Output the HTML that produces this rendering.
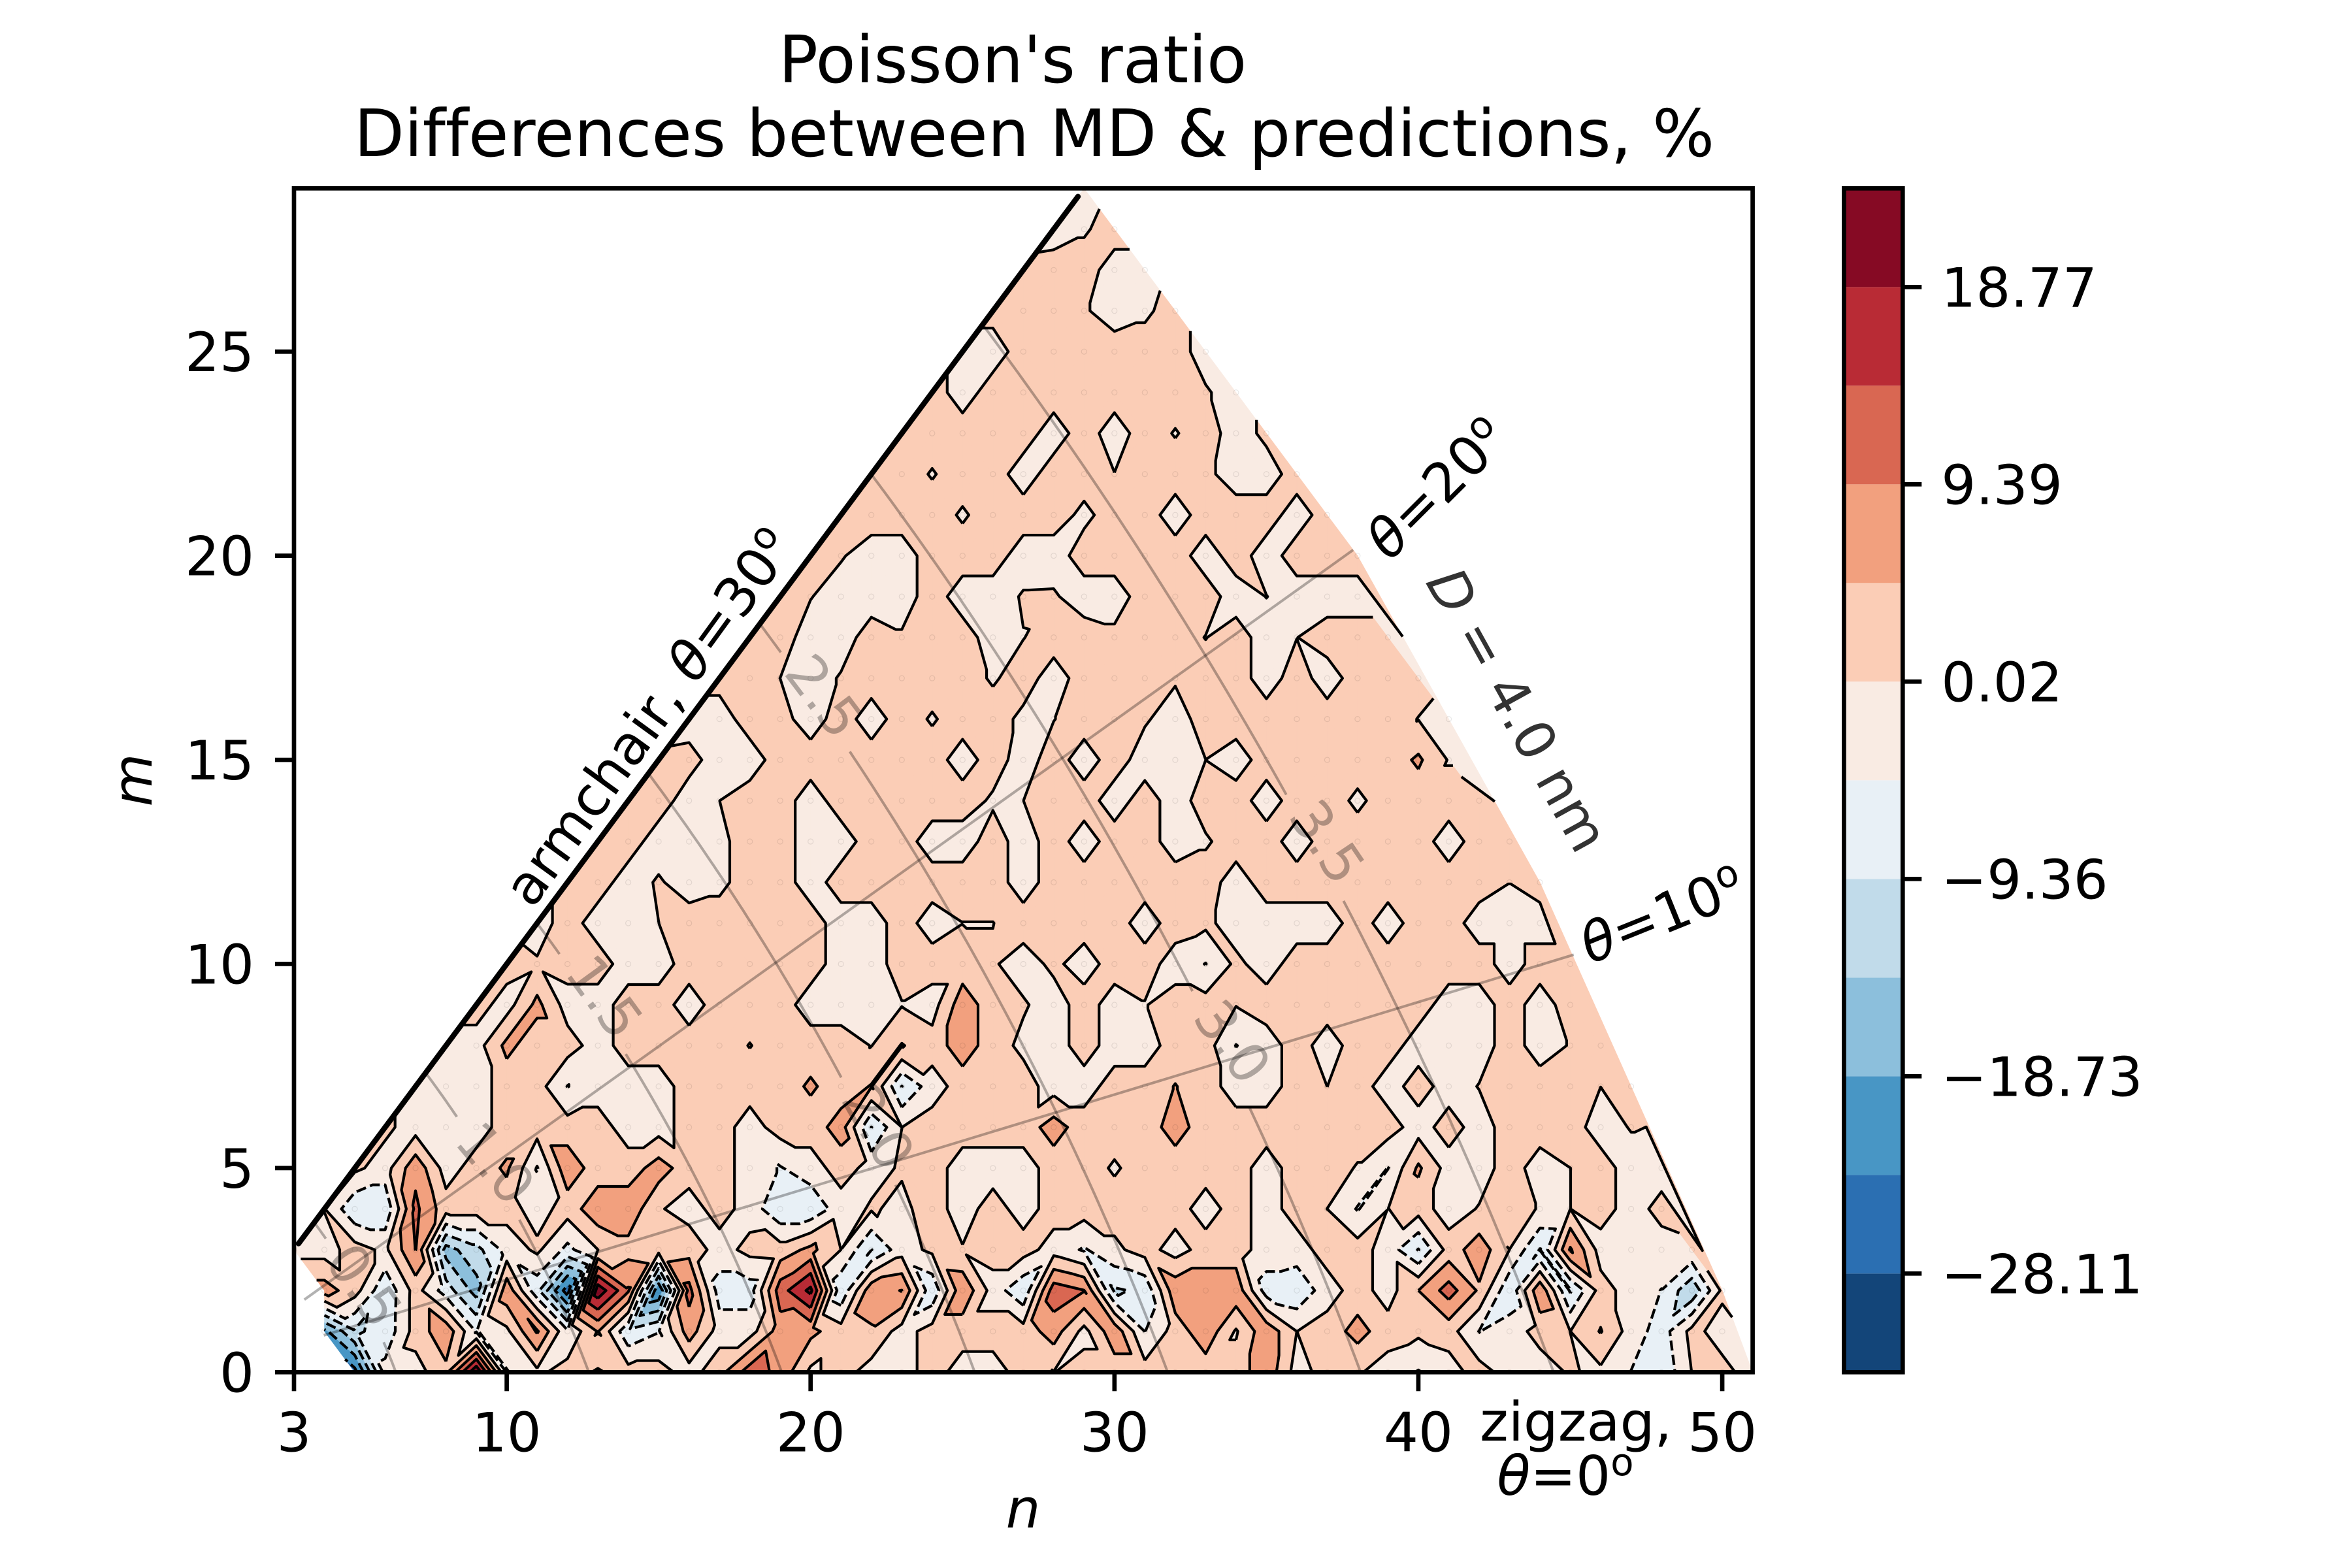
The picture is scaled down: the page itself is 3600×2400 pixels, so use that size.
<!DOCTYPE html>
<html lang="en">
<head>
<meta charset="utf-8">
<title>Poisson's ratio differences</title>
<style>
html,body{margin:0;padding:0;background:#fff;}
svg{display:block;}
text{font-family:"DejaVu Sans","Liberation Sans",sans-serif;fill:#000;font-variant-ligatures:none;}
</style>
</head>
<body>
<svg id="chart" xmlns="http://www.w3.org/2000/svg" width="3600" height="2400" viewBox="0 0 3600 2400">
  <rect x="0" y="0" width="3600" height="2400" fill="#fff"/>
  <defs><clipPath id="axclip"><rect x="450" y="288.3" width="2232.6" height="1812"/></clipPath></defs>
  <g id="plot" clip-path="url(#axclip)"></g>
  <g id="axes"></g>
  <g id="colorbar"></g>
  <text x="1550" y="126" font-size="100" text-anchor="middle">Poisson's ratio</text>
  <text x="1583" y="239" font-size="100" text-anchor="middle">Differences between MD &amp; predictions, %</text>
  <text x="1566" y="2338" font-size="83.33" font-style="italic" text-anchor="middle">n</text>
  <text transform="translate(232 1194) rotate(-90)" font-size="83.33" font-style="italic" text-anchor="middle">m</text>
  <text transform="translate(994 1098) rotate(-54)" font-size="83.33" text-anchor="middle" dy="28">armchair, <tspan font-style="italic">θ</tspan>=30<tspan dy="-30" font-size="58">o</tspan></text>
  <text transform="translate(2200 748) rotate(-45)" font-size="83.33" text-anchor="middle" dy="28"><tspan font-style="italic">θ</tspan>=20<tspan dy="-30" font-size="58">o</tspan></text>
  <text transform="translate(2545 1401) rotate(-22)" font-size="83.33" text-anchor="middle" dy="28"><tspan font-style="italic">θ</tspan>=10<tspan dy="-30" font-size="58">o</tspan></text>
  <text transform="translate(2322 1087) rotate(61)" font-size="83.33" text-anchor="middle" dy="28" style="fill:#333"><tspan font-style="italic">D</tspan> = 4.0 nm</text>
  <text x="2412" y="2205" font-size="83.33" text-anchor="middle">zigzag,</text>
  <text x="2396" y="2288" font-size="83.33" text-anchor="middle"><tspan font-style="italic">θ</tspan>=0<tspan dy="-30" font-size="58">o</tspan></text>
</svg>
<script>
// Chart values: percentage difference at each chirality (n, m). Each array is one m row, starting at nFirst(m).
const zM00=[-25,-3,-2,3.5,23, -5,-1,2,-0.5,2,2,-2,3,12,8, -1,2,-2,-2,2,-2,-2,2,-0.1,2, 2,2,2,2,2,8,-2,2,0.5,-2, -5,-2,2,-2,-2,0.5,-1,-4.8,-8.5,0.1, 1.5,-2];
const zM01=[-20,-10,-8,2,8,-5, -1,10,-4,5,-8.5,-5,7,-2,-2,7, 6,2,4,-2,2,2,2,2,7,-1.5, 8,-4.8,2,8,-0.5,8,0,2,6.5,2, 1,2,-4.8,-2,1.5,0,5,-2,-7,1.5, -2];
const zM02=[7,2,-8.5,2,-7,-16, 8,-8,-26,22,10,-23,11,-7,-7,12, 20,-8.5,8,9.5,-8.5,8.5,-2,-8.5,12,9.5, -10,-8.5,8,8,8,-7,-8.5,-2,2,-2, 4.7,11.5,4,-8.5,8.5,-10,2,-2,-4.8,-13, 1];
const zM03=[-2,-2,2,-1,9.5,-16,-11, -3,1,-6,0,3,2,3,-2,1.5,2, 6,0,-9.5,-2,1,0.3,2,2,-2,-5.2, -1,2,-2,2,2,-2,-2,2,2,-2, -9.6,2,7.5,0,-9.6,10,-2,-2,-2,-1];
const zM04=[0.2,-8.5,-8.5,10.5,2,2, 2,-2,2,8,8,0.5,-2,2,-2,-8.5, -8.5,-2,0.5,-1,2,-2,2,-2,2,2, 2,2,2,-2,2,-2,2,0,-5,-0.05, 2,-2,0.3,2,-0.3,0,2,-2,1.5];
const zM05=[1,-2,8,-2,2, 5.5,-5,8,2,2,7,2,2,-2,-5, -2,2,-1.5,0.5,2,-2,-2,-2,2,2, -0.5,2,2,2,2,-2,2,2,-0.3,-4.8, 5.5,-2,-2,2,-2,0,2,-2,-2];
const zM06=[1,-2,-2,-2, 2,2,2,2,-2,-2,2,2,-2,2, 2,7,-9.5,0,2,2,2,2,7,2, 2,2,7,2,2,2,2,2,2,2, -2,2,-2,2,2,2,-2,0.3];
const zM07=[-2,-2,-2, 2,2,-4.8,-2,-2,-2,2,2,2,2, 5.5,2,5,-9.5,-2,2,2,2,-2,-2, 2,2,4.9,2,-2,-2,2,0,2,-2, 2,-2,0.2,2,2,2,0.05,2];
const zM08=[-2,-2, 6,2,2,-2,2,2,2,2,4.9,2, 2,2,-0.1,5,2,7.5,2,-1,-2,2, -2,-2,2,2,-4.8,-2,2,-2,2,2, -2,-2,-2,2,-2,0.3,2];
const zM09=[2, -2,6,-2,-2,2,2,-2,2,2,2, -2,-2,-2,-0.2,-2,7.5,2,0.5,-2,2, -2,-0.2,2,2,0.2,2,2,2,2,2, 2,-2,-2,2,-2,2];
const zM10=[2,0.5,2,2,-2,-2,2,2,2,2, 2,-2,-2,2,2,2,0.5,-2,1,-2, 2,2,-2,-4.8,1,-2,2,2,2,2, 2,2,2,-2,2,2];
const zM11=[-2,2,-2,-2,0,2,2,2,2, 2,-2,-2,2,-2,-0.05,-0.05,2,2,2, 2,-2,2,1,-2,-2,-2,-2,2,-2, 2,2,-2,-2,-2];
const zM12=[2,2,-2,0.5,-2,-1,2,2, -2,2,2,2,2,2,2,-2,2,2, 2,2,2,2,-2,2,2,2,2,2, 2,2,2,0.1,2];
const zM13=[2,2,-2,-2,-1,2,2, -2,-2,2,2,-2,-2,2,-2,2,-2, 2,2,-2,-0.5,2,2,-2,2,2,2, 2,-2,2,2];
const zM14=[2,2,-2,0,2,2, -2,2,2,2,2,2,-0.6,0,2,2, -2,2,-2,2,2,-2,2,2,-0.8,2, 2,2,2];
const zM15=[1,1.5,-2,-2,2, 2,2,2,2,2,-2,2,-2,2,-2, 2,-2,-2,0,-2,2,2,2,2,2, 5.5,-0.3];
const zM16=[-2,-2,2,1.5, -2,2,-2,2,-0.4,2,2,-1,-0.1,2, 2,0.5,-2,2,2,2,2,2,0.2,2, -0.1,-2];
const zM17=[1.5,2,0, -2,0.4,2,2,2,2,-0.5,2,-2,2, 2,2,0.5,2,2,-2,2,-2,2,2, 2];
const zM18=[2,2, -2,-2,2,0.5,2,2,-2,-0.1,2,2, 1,2,2,-0.1,2,-2,-0.05,2,2,2];
const zM19=[2, 0.2,-2,-2,-2,2,-2,-2,0.4,0.5,-2, -2,2,2,2,-2,0.1,-2,-2,-2];
const zM20=[2,0.4,-2,-2,2,2,2,-2,-2,2, 2,2,2,-2,2,-2,2,2,2];
const zM21=[2,2,2,2,-0.5,2,2,2,-1, 2,2,-2,2,2,2,-2,2];
const zM22=[2,2,-0.3,2,2,-2,2,2, 0.1,2,2,1,-2,-2,2];
const zM23=[2,2,2,2,2,-2,2, -2,2,-0.25,2,-2,1];
const zM24=[2,-2,2,2,2,2, 2,2,2,0.5,-2];
const zM25=[-2,-2,2,2,2,2,2,2,-2];
const zM26=[1.5,2,2,0.5,-2,-0.8,2];
const zM27=[1.5,2,2,-2,-2];
const zM28=[-2,-0.5,2];
const zM29=[-2];
const zRows=[zM00,zM01,zM02,zM03,zM04,zM05,zM06,zM07,zM08,zM09,zM10,zM11,zM12,zM13,zM14,zM15,zM16,zM17,zM18,zM19,zM20,zM21,zM22,zM23,zM24,zM25,zM26,zM27,zM28,zM29];
const lowFirstN=[5,4,4,3];
const flippedCells=[[27,22],[36,17],[28,20],[35,20],[33,19],[34,19],[33,18],[25,13],[29,14],[29,13],[28,9],[31,10],[31,9],[43,10],[42,10],[22,6]];
const levels=[-32.8,-28.11,-23.42,-18.73,-14.05,-9.36,-4.67,0.02,4.7,9.39,14.08,18.77,23.46];
const bandColors=['#134579','#2b6fb2','#4896c5','#8cbfdc','#c1dbea','#e8f0f6','#f9ebe3','#fbcdb6','#f2a07e','#d96752','#b92b35','#860a24'];
const colorbarTicks=[18.77,9.39,0.02,-9.36,-18.73,-28.11];
const colorbarTickLabels=['18.77','9.39','0.02','−9.36','−18.73','−28.11'];
const xTicks=[3,10,20,30,40,50];
const yTicks=[0,5,10,15,20,25];
const diameters=[0.5,1,1.5,2,2.5,3,3.5];
const diameterLabels=['0.5','1.0','1.5','2.0','2.5','3.0','3.5'];
const thetaLines=[10,20];

const NS='http://www.w3.org/2000/svg';
const AX={l:450,r:2682.6,t:288.3,b:2100.3,nMin:3,nMax:51,mMin:0,mMax:29};
const CB={l:2822.4,r:2912.3,t:288.3,b:2100.3};
const sx=n=>AX.l+(n-AX.nMin)*(AX.r-AX.l)/(AX.nMax-AX.nMin);
const sy=m=>AX.b-(m-AX.mMin)*(AX.b-AX.t)/(AX.mMax-AX.mMin);
const cbY=v=>{ // colorbar axis: equal-height bands per level
  for(let i=0;i<levels.length-1;i++){
    if(v<=levels[i+1]){const f=(v-levels[i])/(levels[i+1]-levels[i]);return CB.b-(i+f)*(CB.b-CB.t)/(levels.length-1);}
  }
  return CB.t;
};
const firstN=m=>m<lowFirstN.length?lowFirstN[m]:m;
const lastN=m=>firstN(m)+zRows[m].length-1;
const P=(n,m)=>({id:m*100+n,n,m,z:zRows[m][n-firstN(m)]});
const flipSet=new Set(flippedCells.map(c=>c[0]+'_'+c[1]));

// Triangulate the (n,m) lattice
const tris=[];
for(let m=0;m<zRows.length-1;m++){
  const a0=firstN(m),a1=lastN(m),b0=firstN(m+1),b1=lastN(m+1);
  for(let n=Math.max(a0,b0);n<Math.min(a1,b1);n++){
    const A=P(n,m),B=P(n+1,m),C=P(n,m+1),D=P(n+1,m+1);
    const d1=Math.abs(A.z-D.z),d2=Math.abs(B.z-C.z);
    let useAD=d1<d2||(d1===d2&&(n+m)%2===0);
    if(flipSet.has(n+'_'+m))useAD=!useAD;
    if(useAD){tris.push([A,B,D],[A,D,C]);}else{tris.push([A,B,C],[B,D,C]);}
  }
  for(let k=a0;k<b0;k++)tris.push([P(k,m),P(k+1,m),P(b0,m+1)]);
  for(let k=b0;k<a0;k++)tris.push([P(k,m+1),P(k+1,m+1),P(a0,m)]);
  for(let k=b1;k<a1;k++)tris.push([P(k,m),P(k+1,m),P(b1,m+1)]);
  for(let k=a1;k<b1;k++)tris.push([P(k,m+1),P(k+1,m+1),P(a1,m)]);
}
// Fill the outer boundary to its convex hull
(function(){
  const st=[];
  for(let m=0;m<zRows.length;m++){
    const p=P(lastN(m),m);
    while(st.length>=2){
      const a=st[st.length-2],b=st[st.length-1];
      const cr=(b.n-a.n)*(p.m-a.m)-(b.m-a.m)*(p.n-a.n);
      if(cr>0)break;
      if(cr<0)tris.push([a,b,p]);
      st.pop();
    }
    st.push(p);
  }
})();

function clipAt(poly,L,keepAbove){
  const out=[];
  for(let i=0;i<poly.length;i++){
    const a=poly[i],b=poly[(i+1)%poly.length];
    const ia=keepAbove?a.z>=L:a.z<L, ib=keepAbove?b.z>=L:b.z<L;
    if(ia)out.push(a);
    if(ia!==ib){const t=(L-a.z)/(b.z-a.z);out.push({n:a.n+t*(b.n-a.n),m:a.m+t*(b.m-a.m),z:L});}
  }
  return out;
}
const plot=document.getElementById('plot');
const axes=document.getElementById('axes');
const cbar=document.getElementById('colorbar');

// Filled bands
for(let b=0;b<bandColors.length;b++){
  let d='';
  for(const t of tris){
    let poly=clipAt(t,levels[b],true);
    if(poly.length>2)poly=clipAt(poly,levels[b+1],false);
    if(poly.length<3)continue;
    d+='M'+poly.map(p=>sx(p.n).toFixed(1)+' '+sy(p.m).toFixed(1)).join('L')+'Z';
  }
  if(!d)continue;
  const el=document.createElementNS(NS,'path');
  
  
  el.setAttribute('d',d);
  el.setAttribute('fill',bandColors[b]);
  el.setAttribute('stroke',bandColors[b]);
  el.setAttribute('stroke-width','0.6');
  plot.appendChild(el);
}

// Faint ring markers at every lattice point
(function(){
  let d='';
  zRows.forEach((row,m)=>row.forEach((v,i)=>{
    const cx=sx(firstN(m)+i),cy=sy(m);
    d+='M'+(cx-4).toFixed(1)+' '+cy.toFixed(1)+'a4 4 0 1 0 8 0a4 4 0 1 0 -8 0Z';
  }));
  const el=document.createElementNS(NS,'path');
  
  
  el.setAttribute('d',d);
  el.setAttribute('fill','none');
  el.setAttribute('stroke','rgba(0,0,0,0.09)');
  el.setAttribute('stroke-width','1.2');
  plot.appendChild(el);
})();

// Contour lines, chained so dashes run along each contour
for(const L of levels.slice(1,-1)){
  const segs=[],byKey={},pos={};
  for(const t of tris){
    const found=[];
    for(let i=0;i<3;i++){
      const a=t[i],b=t[(i+1)%3];
      if((a.z>=L)!==(b.z>=L)){
        const key=Math.min(a.id,b.id)+'_'+Math.max(a.id,b.id);
        const f=(L-a.z)/(b.z-a.z);
        pos[key]=[sx(a.n+f*(b.n-a.n)),sy(a.m+f*(b.m-a.m))];
        found.push(key);
      }
    }
    if(found.length===2){
      const s=segs.length;segs.push(found);
      (byKey[found[0]]=byKey[found[0]]||[]).push(s);
      (byKey[found[1]]=byKey[found[1]]||[]).push(s);
    }
  }
  const used=new Array(segs.length).fill(false);
  let d='';
  const walk=(start,key)=>{
    const chain=[key];let cur=key,s=start;
    while(s!==undefined&&!used[s]){
      used[s]=true;
      const nxt=segs[s][0]===cur?segs[s][1]:segs[s][0];
      chain.push(nxt);cur=nxt;
      s=(byKey[cur]||[]).find(q=>!used[q]);
    }
    return chain;
  };
  const order=Object.keys(byKey).filter(k=>byKey[k].length===1).concat(Object.keys(byKey));
  for(const k of order){
    for(const s of byKey[k]){
      if(used[s])continue;
      const ch=walk(s,k);
      d+='M'+ch.map(q=>pos[q][0].toFixed(1)+' '+pos[q][1].toFixed(1)).join('L');
    }
  }
  if(!d)continue;
  const el=document.createElementNS(NS,'path');
  
  
  el.setAttribute('d',d);
  el.setAttribute('fill','none');
  el.setAttribute('stroke','#000');
  el.setAttribute('stroke-width','4.17');
  el.setAttribute('stroke-linejoin','round');
  if(L<0)el.setAttribute('stroke-dasharray','15.4 6.7');
  plot.appendChild(el);
}

// Diameter and chirality guide lines
const RADIUS_PER_NM=12.7;
const labelPlace=[[558,1967,55],[759,1780,50],[926,1525,54],[1345,1725,60],[1262,1065,53],[1887,1594,54],[2032,1288,56]];
diameters.forEach((D,i)=>{
  const r=D*RADIUS_PER_NM,lp=labelPlace[i];
  let d='',pen=false;
  for(let a=0;a<=30.001;a+=0.25){
    const rad=a*Math.PI/180,m=r*Math.sin(rad)/Math.sin(Math.PI/3),n=r*Math.cos(rad)-m/2;
    const px=sx(n),py=sy(m);
    if(Math.hypot(px-lp[0],py-lp[1])<92){pen=false;continue;}
    d+=(pen?'L':'M')+px.toFixed(1)+' '+py.toFixed(1);pen=true;
  }
  const el=document.createElementNS(NS,'path');
  
  
  el.setAttribute('d',d);
  el.setAttribute('fill','none');
  el.setAttribute('stroke','rgba(0,0,0,0.3)');
  el.setAttribute('stroke-width','4');
  plot.appendChild(el);
  const tx=document.createElementNS(NS,'text');
  
  
  tx.setAttribute('transform','translate('+lp[0]+' '+lp[1]+') rotate('+lp[2]+')');
  tx.setAttribute('text-anchor','middle');
  tx.setAttribute('dy','30');
  tx.setAttribute('font-size','83.33');
  tx.style.fill='rgba(0,0,0,0.3)';
  tx.textContent=diameterLabels[i];
  plot.appendChild(tx);
});
thetaLines.forEach(a=>{
  const rad=a*Math.PI/180;
  const pt=r=>{const m=r*Math.sin(rad)/Math.sin(Math.PI/3),n=r*Math.cos(rad)-m/2;return [sx(n),sy(m)];};
  const p0=pt(4.5),p1=pt(51);
  const el=document.createElementNS(NS,'line');
  
  
  el.setAttribute('x1',p0[0]);el.setAttribute('y1',p0[1]);
  el.setAttribute('x2',p1[0]);el.setAttribute('y2',p1[1]);
  el.setAttribute('stroke','rgba(0,0,0,0.3)');
  el.setAttribute('stroke-width','4');
  plot.appendChild(el);
});
// Armchair boundary
(function(){
  const el=document.createElementNS(NS,'line');
  
  
  el.setAttribute('x1',sx(3.15));el.setAttribute('y1',sy(3.15));
  el.setAttribute('x2',sx(28.8));el.setAttribute('y2',sy(28.8));
  el.setAttribute('stroke','#000');
  el.setAttribute('stroke-width','8.33');
  el.setAttribute('stroke-linecap','round');
  plot.appendChild(el);
})();

// Axes frame, ticks, tick labels
(function(){
  const fr=document.createElementNS(NS,'rect');
  
  
  fr.setAttribute('x',AX.l);fr.setAttribute('y',AX.t);
  fr.setAttribute('width',AX.r-AX.l);fr.setAttribute('height',AX.b-AX.t);
  fr.setAttribute('fill','none');fr.setAttribute('stroke','#000');fr.setAttribute('stroke-width','6.67');
  axes.appendChild(fr);
})();
xTicks.forEach(v=>{
  const t=document.createElementNS(NS,'line');
  
  
  t.setAttribute('x1',sx(v));t.setAttribute('x2',sx(v));
  t.setAttribute('y1',AX.b);t.setAttribute('y2',AX.b+29);
  t.setAttribute('stroke','#000');t.setAttribute('stroke-width','6.67');
  axes.appendChild(t);
  const l=document.createElementNS(NS,'text');
  
  
  l.setAttribute('x',sx(v));l.setAttribute('y',AX.b+121);
  l.setAttribute('font-size','83.33');l.setAttribute('text-anchor','middle');
  l.textContent=String(v);
  axes.appendChild(l);
});
yTicks.forEach(v=>{
  const t=document.createElementNS(NS,'line');
  
  
  t.setAttribute('x1',AX.l-29);t.setAttribute('x2',AX.l);
  t.setAttribute('y1',sy(v));t.setAttribute('y2',sy(v));
  t.setAttribute('stroke','#000');t.setAttribute('stroke-width','6.67');
  axes.appendChild(t);
  const l=document.createElementNS(NS,'text');
  
  
  l.setAttribute('x',AX.l-61);l.setAttribute('y',sy(v)+30);
  l.setAttribute('font-size','83.33');l.setAttribute('text-anchor','end');
  l.textContent=String(v);
  axes.appendChild(l);
});

// Colorbar
bandColors.forEach((c,i)=>{
  const r=document.createElementNS(NS,'rect');
  
  
  r.setAttribute('x',CB.l);r.setAttribute('width',CB.r-CB.l);
  r.setAttribute('y',cbY(levels[i+1]));r.setAttribute('height',cbY(levels[i])-cbY(levels[i+1]));
  r.setAttribute('fill',c);
  cbar.appendChild(r);
});
(function(){
  const fr=document.createElementNS(NS,'rect');
  
  
  fr.setAttribute('x',CB.l);fr.setAttribute('y',CB.t);
  fr.setAttribute('width',CB.r-CB.l);fr.setAttribute('height',CB.b-CB.t);
  fr.setAttribute('fill','none');fr.setAttribute('stroke','#000');fr.setAttribute('stroke-width','6.67');
  cbar.appendChild(fr);
})();
colorbarTicks.forEach((v,i)=>{
  const t=document.createElementNS(NS,'line');
  
  
  t.setAttribute('x1',CB.r);t.setAttribute('x2',CB.r+29);
  t.setAttribute('y1',cbY(v));t.setAttribute('y2',cbY(v));
  t.setAttribute('stroke','#000');t.setAttribute('stroke-width','6.67');
  cbar.appendChild(t);
  const l=document.createElementNS(NS,'text');
  
  
  l.setAttribute('x',CB.r+59);l.setAttribute('y',cbY(v)+30);
  l.setAttribute('font-size','83.33');
  l.textContent=colorbarTickLabels[i];
  cbar.appendChild(l);
});
</script>
</body>
</html>
